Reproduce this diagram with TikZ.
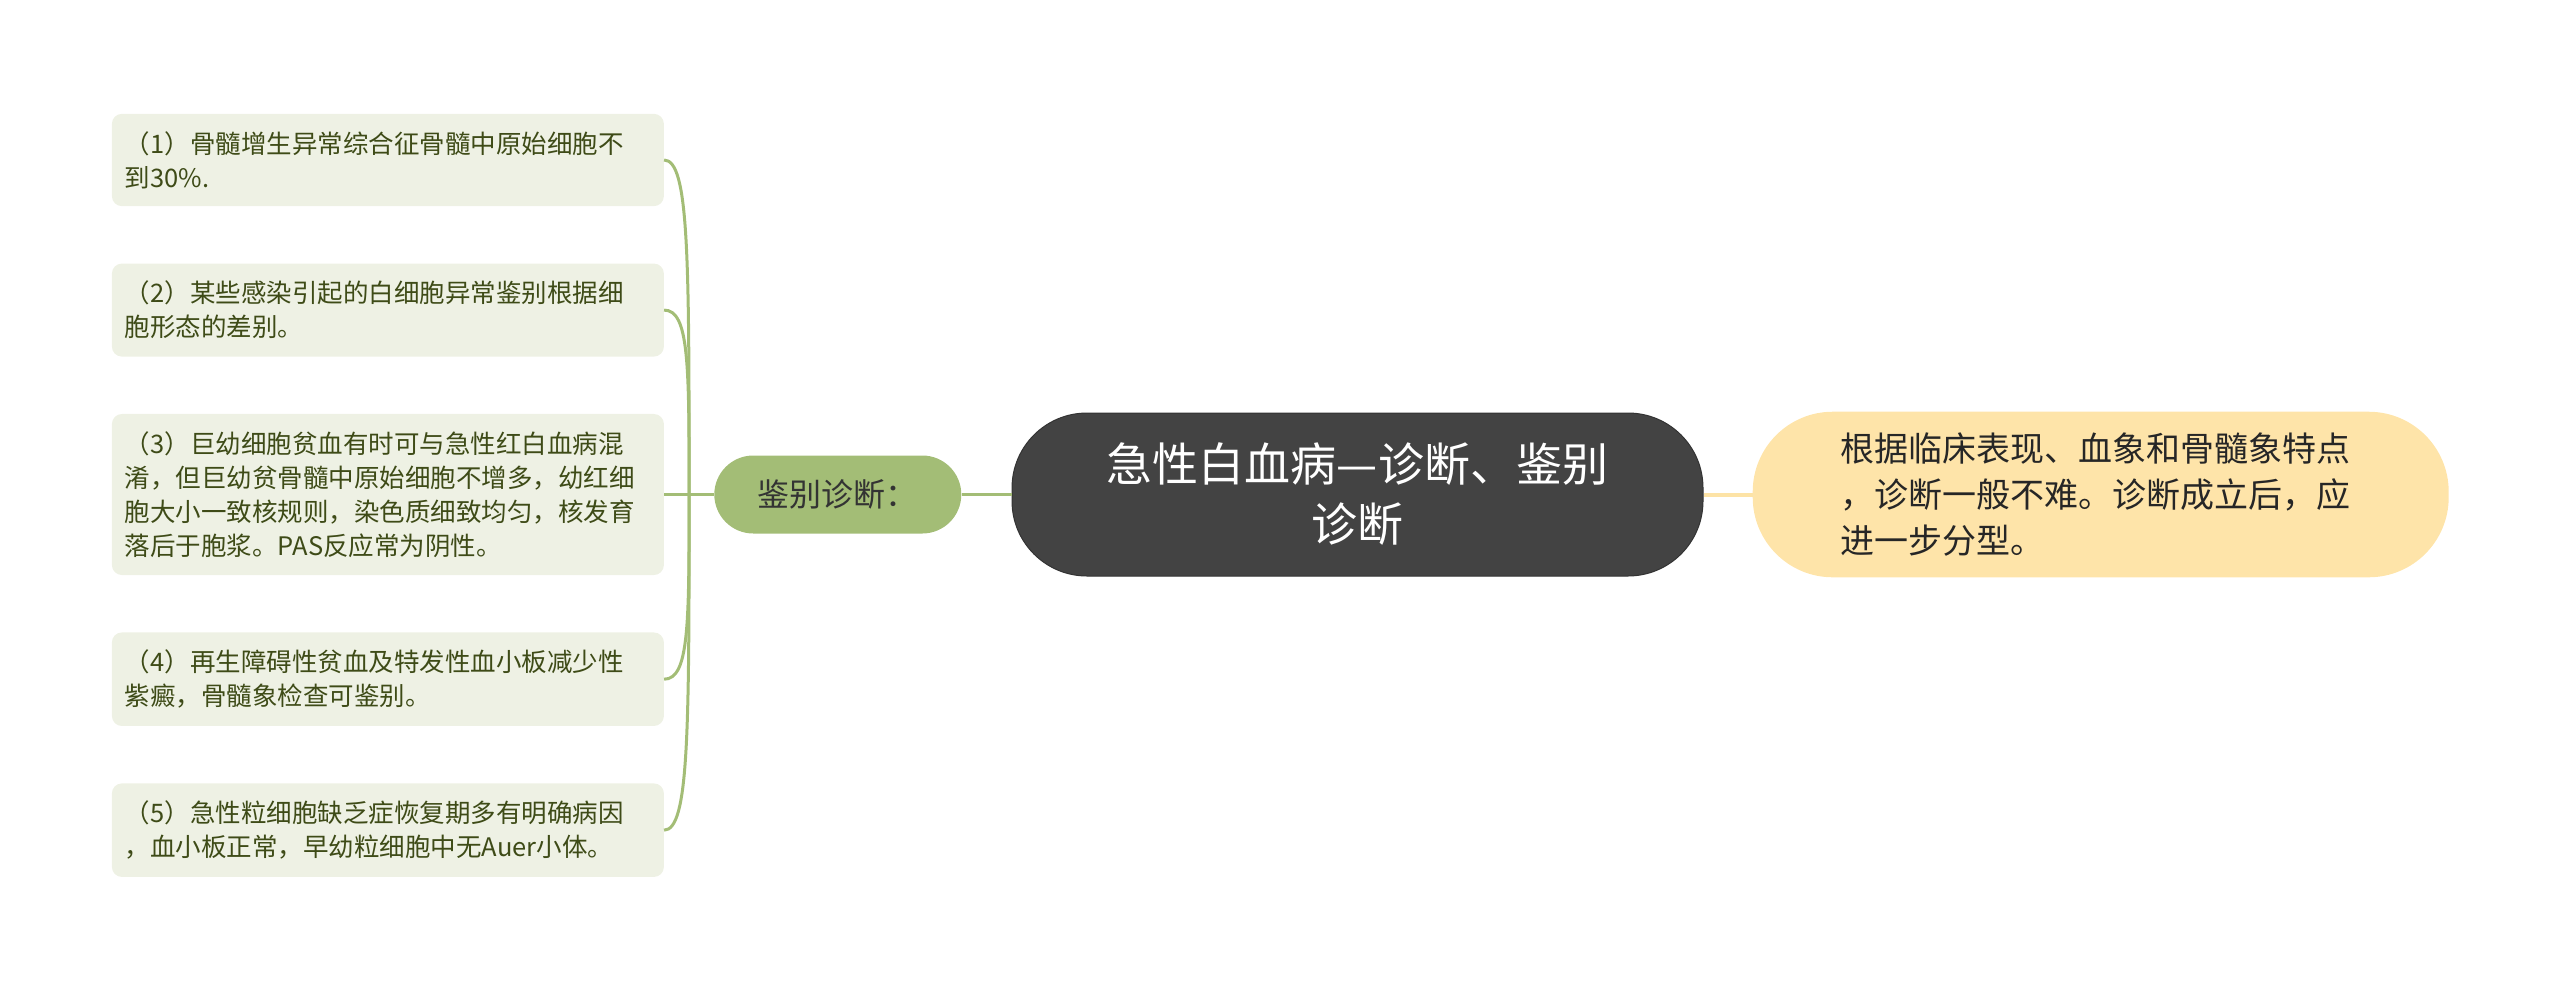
\documentclass[tikz,border=0pt]{standalone}
\usepackage{fontspec}
\setmainfont{Noto Sans CJK SC}
\usepackage{tikz}
\usetikzlibrary{positioning}

\definecolor{itemfill}{HTML}{EEF1E4}
\definecolor{itemtext}{HTML}{3E4B17}
\definecolor{branchgreen}{HTML}{A3BD76}
\definecolor{rootfill}{HTML}{434343}
\definecolor{notefill}{HTML}{FEE4A9}
\definecolor{noteline}{HTML}{FDE3A6}

\begin{document}
\begin{tikzpicture}[x=1pt,y=1pt,node distance=57pt]
  \tikzstyle{item}=[fill=itemfill,text=itemtext,rounded corners=10pt,text width=526pt,inner xsep=13pt,inner ysep=17.5pt,align=left,font=\fontsize{25.5}{34}\selectfont]
  \tikzstyle{branch}=[draw=branchgreen,line width=3pt]
  \useasboundingbox (0,0) rectangle (2560,-989);

    \node[draw=black!80, line width=1pt, fill=rootfill, text=white, rounded corners=75pt, minimum width=691pt, minimum height=163pt, align=center, font=\fontsize{46}{60}\selectfont] (root) at (1357.5,-494.5) {急性白血病—诊断、鉴别\\诊断};
    \node[fill=branchgreen, text=black!80, rounded corners=39pt, minimum width=247pt, minimum height=78pt, font=\fontsize{32}{40}\selectfont] (diag) [left=50pt of root] {鉴别诊断：};
    \node[fill=notefill, text=black!85, rounded corners=80pt, text width=520pt, inner xsep=88pt, inner ysep=21pt, align=left, font=\fontsize{34}{46}\selectfont] (note) [right=49pt of root] {根据临床表现、血象和骨髓象特点\\，诊断一般不难。诊断成立后，应\\进一步分型。};
    \coordinate[left=25pt of diag] (trunk);

    \node[item] (b3) [left=25pt of trunk] {（3）巨幼细胞贫血有时可与急性红白血病混\\淆，但巨幼贫骨髓中原始细胞不增多，幼红细\\胞大小一致核规则，染色质细致均匀，核发育\\落后于胞浆。PAS反应常为阴性。};
    \node[item] (b2) [above=of b3] {（2）某些感染引起的白细胞异常鉴别根据细\\胞形态的差别。};
    \node[item] (b1) [above=of b2] {（1）骨髓增生异常综合征骨髓中原始细胞不\\到30\%.};
    \node[item] (b4) [below=of b3] {（4）再生障碍性贫血及特发性血小板减少性\\紫癜，骨髓象检查可鉴别。};
    \node[item] (b5) [below=of b4] {（5）急性粒细胞缺乏症恢复期多有明确病因\\，血小板正常，早幼粒细胞中无Auer小体。};

    \path[branch]
    (diag)  edge  (root)
    (trunk) edge  (diag)
    (trunk) edge  (b3)
    (trunk) edge [out=90,in=0,out distance=235pt,in distance=25pt]  (b1)
    (trunk) edge [out=90,in=0,out distance=130pt,in distance=25pt]  (b2)
    (trunk) edge [out=-90,in=0,out distance=130pt,in distance=25pt] (b4)
    (trunk) edge [out=-90,in=0,out distance=235pt,in distance=25pt] (b5)
    ;
    \draw[noteline, line width=4pt] (root) -- (note);

\end{tikzpicture}
\end{document}
